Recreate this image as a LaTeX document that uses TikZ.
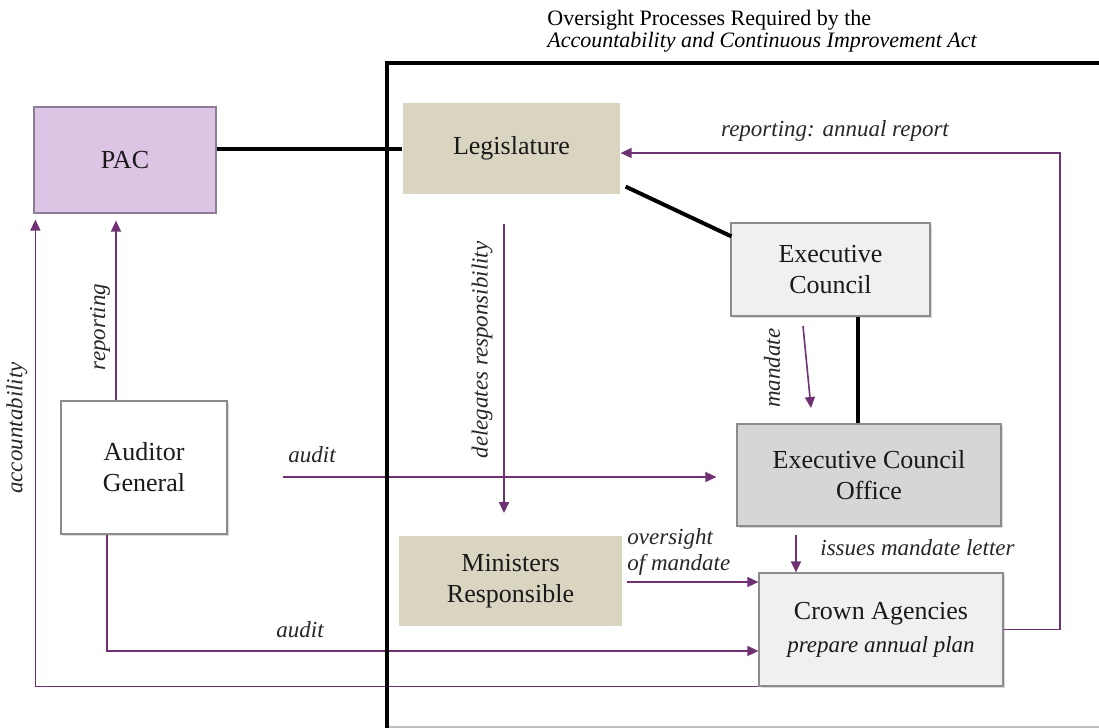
\documentclass[tikz,border=0pt]{standalone}
\usepackage{fontspec}
\setmainfont{Liberation Serif}
\usetikzlibrary{arrows.meta,shadows}

\definecolor{pacfill}{HTML}{DCC4E4}
\definecolor{pacdraw}{HTML}{8E7C94}
\definecolor{tanfill}{HTML}{D9D5C1}
\definecolor{flowcol}{HTML}{6E3274}
\newcommand{\lblfont}{\fontsize{11.5}{13}\selectfont\itshape}

\begin{document}
\begin{tikzpicture}[x=0.5pt,y=-0.5pt,
        box/.style={rectangle,draw=black!45,line width=0.6pt,align=center,
            font=\fontsize{13}{15.5}\selectfont,text=black!90,inner sep=2pt},
        shadowed/.style={drop shadow={shadow xshift=1.2pt,shadow yshift=-1.2pt,opacity=0.3}},
        tanbox/.style={box,draw=none,fill=tanfill},
        flow/.style={draw=flowcol,line width=0.8pt,-{Triangle[length=5.5pt,width=5pt]}},
        thickline/.style={line width=2pt},
        lbl/.style={font=\lblfont,text=black!85,inner sep=0pt}]

    \useasboundingbox (0,0) rectangle (1099,728);

    % title
    \node[anchor=west,align=left,font=\fontsize{11}{11}\selectfont,inner sep=0pt] (title) at (547,31)
        {Oversight Processes Required by the\\\textit{Accountability and Continuous Improvement Act}};

    % boxes
    \node[box,fill=pacfill,draw=pacdraw,minimum width=91pt,minimum height=53pt] (pac) at (125,160) {PAC};
    \node[tanbox,minimum width=108.5pt,minimum height=45.5pt] (leg) at (511.5,148.5) {Legislature};
    \node[box,shadowed,fill=black!6,minimum width=99.5pt,minimum height=46.5pt] (exc) at (830.5,269.5) {Executive\\Council};
    \node[box,shadowed,fill=black!16,minimum width=132pt,minimum height=51pt] (eco) at (869,475) {Executive Council\\Office};
    \node[box,shadowed,fill=black!6,minimum width=122pt,minimum height=56.5pt] (crown) at (881,629.5)
        {Crown Agencies\\[1pt]{\lblfont prepare annual plan}};
    \node[tanbox,minimum width=111.5pt,minimum height=45pt] (min) at (510.5,581) {Ministers\\Responsible};
    \node[box,shadowed,fill=white,minimum width=83pt,minimum height=66.5pt] (aud) at (144,467.5) {Auditor\\General};

    % black links
    \coordinate (ecx) at (858,0);
    \draw[thickline] (pac.east |- leg.west) -- (leg.west);
    \draw[thickline] ([shift={(5,-8)}]leg.south east) -- ([shift={(1,14)}]exc.north west);
    \draw[thickline] (exc.south -| ecx) -- (eco.north -| ecx);

    % purple flows
    \coordinate (rpt) at (1060,153);
    \draw[flow] (crown.east) -| (rpt) -- (rpt -| leg.east);
    \node[lbl] (lrpt) at (835,131) {reporting: annual report};

    \coordinate (dgtop) at (504,224);
    \coordinate (dgbot) at (504,513);
    \draw[flow] (dgtop) -- (dgbot);
    \node[lbl,rotate=90] (ldg) at (482,350) {delegates responsibility};

    \coordinate (mdtop) at (803,326);
    \coordinate (mdbot) at (811,408);
    \draw[flow] (mdtop) -- (mdbot);
    \node[lbl,rotate=90] (lmd) at (772,368) {mandate};

    \coordinate (iml) at (796,535);
    \draw[flow] (iml) -- (iml |- crown.north);
    \node[lbl,anchor=west] (liml) at (820,548) {issues mandate letter};

    \coordinate (ovm) at (627,582);
    \draw[flow] (ovm) -- (ovm -| crown.west);
    \node[lbl,anchor=west,align=left] (lovm) at (627,552) {oversight\\of mandate};

    \coordinate (adt) at (283,477);
    \draw[flow,shorten >=10pt] (adt) -- (adt -| eco.west);
    \node[lbl] (ladt) at (312,455) {audit};

    \draw[flow] ([xshift=-18.5pt]aud.south) |- ([yshift=-10.75pt]crown.west);
    \node[lbl] (ladb) at (300,630) {audit};

    \draw[flow,shorten >=3pt] (crown.south west) -| ([xshift=1pt]pac.south west);
    \node[lbl,rotate=90] (lacc) at (17,428) {accountability};

    \coordinate (rpa) at ([xshift=-14pt]aud.north);
    \draw[flow,shorten >=3.5pt] (rpa) -- (rpa |- pac.south);
    \node[lbl,rotate=90] (lrpa) at (100,327) {reporting};

    % frame
    \draw[black!25,line width=0.6pt] (387,727) -- (1099,727);
    \draw[line width=2.2pt] (387,728) -- (387,63) -- (1099,63);
\end{tikzpicture}
\end{document}
